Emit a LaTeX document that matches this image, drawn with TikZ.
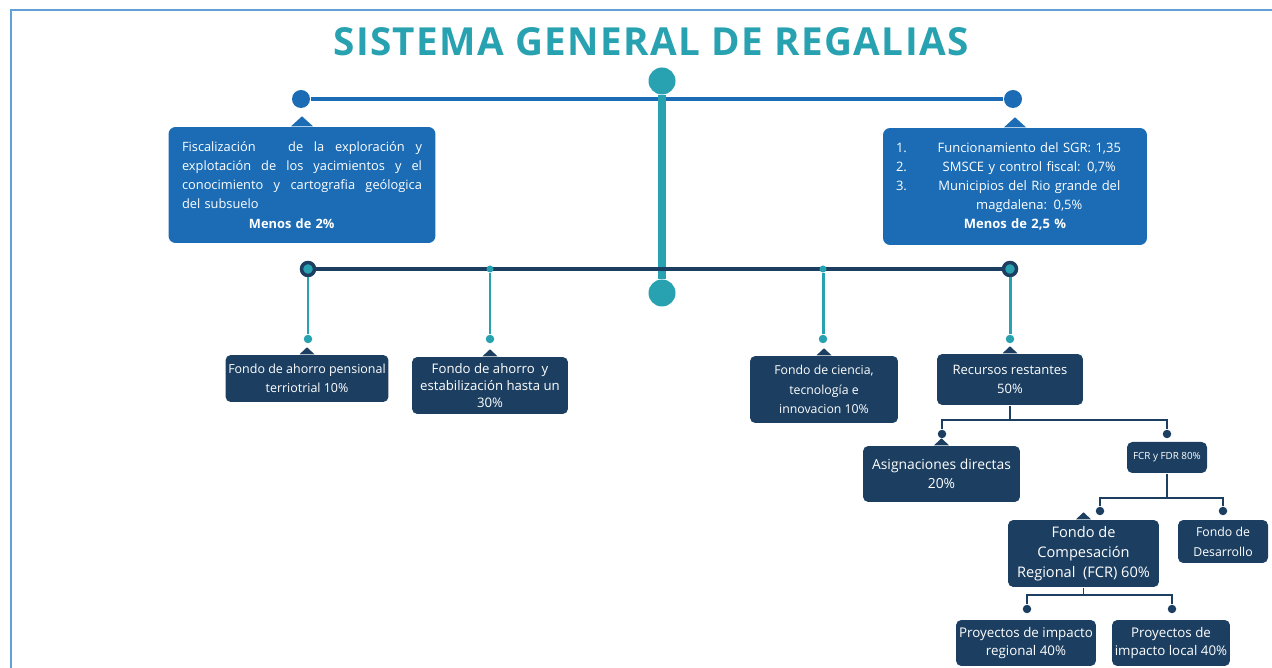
\documentclass[tikz,border=0pt]{standalone}
\usepackage{fontspec}
\setmainfont{Open Sans}
\newfontfamily\titlefont{Open Sans}[LetterSpace=3.5]
\usetikzlibrary{calc}

\definecolor{tealsgr}{RGB}{40,162,176}
\definecolor{bluesgr}{RGB}{27,108,181}
\definecolor{navysgr}{RGB}{28,63,97}
\definecolor{framesgr}{RGB}{98,160,216}

% one numbered line of the right call-out
\newcommand{\numline}[2]{\makebox[2.2em][l]{#1}\makebox[\dimexpr\linewidth-2.2em\relax][c]{#2}}

\begin{document}
\begin{tikzpicture}[x=0.02cm,y=-0.02cm,
  thick,
  callout box/.style={fill=bluesgr,text=white,rounded corners=4pt,inner sep=0pt},
  fund box/.style={fill=navysgr,text=white,rounded corners=3pt,inner sep=0pt,align=center},
  dot/.style={circle,fill=#1,inner sep=0pt},
  ring/.style={circle,fill=tealsgr,draw=navysgr,line width=2pt,inner sep=0pt,minimum size=0.26cm},
  conn/.style={draw=navysgr,line width=1.1pt}]

  \useasboundingbox (0,0) rectangle (1272,668);
  \draw[framesgr,line width=0.05cm] (11,668) -- (11,10) -- (1272,10);

  \node[text=tealsgr,font=\titlefont\bfseries\fontsize{22}{22}\selectfont] (title) at (651,42) {SISTEMA GENERAL DE REGALIAS};

  % top level
  \node[dot=bluesgr,minimum size=0.36cm] (bl) at (301,99) {};
  \node[dot=bluesgr,minimum size=0.36cm] (br) at (1013,99) {};
  \node[dot=tealsgr,minimum size=0.54cm] (top) at (662,81) {};
  \node[dot=tealsgr,minimum size=0.54cm] (bot) at (662,293) {};
  \node[ring] (nl) at (308,269) {};
  \node[ring] (nr) at (1010,269) {};
  \draw[bluesgr,line width=2.8pt] (bl) -- (br);
  \draw[tealsgr,line width=4pt] (top) -- (bot);
  \draw[navysgr,line width=2.8pt] (nl) -- (nr);

  % call-outs
  \node[callout box,minimum width=5.34cm,minimum height=2.32cm,text width=4.8cm,
    font=\fontsize{7.3}{10.9}\selectfont] (lc) at (302,185) {%
    Fiscalización\hfill\hfill\hfill de\hfill la\hfill exploración\hfill y\\
    explotación\hfill de\hfill los\hfill yacimientos\hfill y\hfill el\\
    conocimiento\hfill y\hfill cartografia\hfill geólogica\\
    del subsuelo\\
    \makebox[\linewidth]{\textbf{Menos de 2\%}\hspace{1.6em}}};
  \node[callout box,minimum width=5.28cm,minimum height=2.34cm,text width=4.76cm,
    font=\fontsize{7.4}{10.8}\selectfont] (rc) at (1015,186.5) {%
    \numline{1.}{Funcionamiento del SGR: 1,35}\\
    \numline{2.}{SMSCE y control fiscal: 0,7\%}\\
    \numline{3.}{Municipios del Rio grande del}\\
    \numline{}{magdalena: 0,5\%}\\
    \makebox[\linewidth]{\textbf{Menos de 2,5 \%}}};
  \foreach \b in {lc,rc}
    \fill[bluesgr] ([xshift=-0.22cm]\b.north) -- ([yshift=0.2cm]\b.north) -- ([xshift=0.22cm]\b.north) -- cycle;

  % funds
  \node[fund box,minimum width=3.26cm,minimum height=0.94cm,font=\fontsize{7.1}{11}\selectfont] (b1) at (307,378.5) {Fondo de ahorro pensional\\terriotrial 10\%};
  \node[fund box,minimum width=3.12cm,minimum height=1.14cm,font=\fontsize{7.5}{9.8}\selectfont] (b2) at (490,385.5) {Fondo de ahorro\ \ y\\estabilización hasta un\\30\%};
  \node[fund box,minimum width=2.96cm,minimum height=1.34cm,font=\fontsize{7}{11}\selectfont] (b3) at (824,389.5) {Fondo de ciencia,\\tecnología e\\innovacion 10\%};
  \node[fund box,minimum width=2.92cm,minimum height=1.02cm,font=\fontsize{7.4}{10.8}\selectfont] (b4) at (1010,379.5) {Recursos restantes\\50\%};
  \node[fund box,minimum width=3.14cm,minimum height=1.12cm,font=\fontsize{7.9}{10.8}\selectfont] (ad) at (941.5,474) {Asignaciones directas\\20\%};
  \node[fund box,minimum width=1.6cm,minimum height=0.62cm,font=\fontsize{5.6}{6}\selectfont] (fcrfdr) at (1167,457.5) {FCR y FDR 80\%};
  \node[fund box,minimum width=3.02cm,minimum height=1.34cm,font=\fontsize{8.3}{11.3}\selectfont] (fcr) at (1083.5,553.5) {Fondo de\\Compesación\\Regional\ \ (FCR) 60\%};
  \node[fund box,minimum width=1.8cm,minimum height=0.86cm,font=\fontsize{7}{11.3}\selectfont] (fdr) at (1223,541.5) {Fondo de\\Desarrollo};
  \node[fund box,minimum width=2.8cm,minimum height=0.92cm,font=\fontsize{7.6}{10.2}\selectfont] (pr) at (1026,643) {Proyectos de impacto\\regional 40\%};
  \node[fund box,minimum width=2.36cm,minimum height=0.92cm,font=\fontsize{7.6}{10.2}\selectfont] (pl) at (1171,643) {Proyectos de\\impacto local 40\%};
  \foreach \b in {b1,b2,b3,b4,ad,fcr}
    \fill[navysgr] ([xshift=-0.15cm]\b.north) -- ([yshift=0.14cm]\b.north) -- ([xshift=0.15cm]\b.north) -- cycle;

  % stems from the navy bar
  \node[dot=tealsgr,minimum size=0.14cm] (t2) at (490,269) {};
  \node[dot=tealsgr,minimum size=0.14cm] (t3) at (823,269) {};
  \node[dot=tealsgr,minimum size=0.17cm] (s1) at (308,339) {};
  \node[dot=tealsgr,minimum size=0.17cm] (s2) at (490,339) {};
  \node[dot=tealsgr,minimum size=0.17cm] (s3) at (823,339) {};
  \node[dot=tealsgr,minimum size=0.17cm] (s4) at (1010,339) {};
  \path[tealsgr,line width=1.7pt]
    (nl) edge (s1)
    (t2) edge (s2)
    (t3) edge (s3)
    (nr) edge (s4);

  % lower tree
  \node[dot=navysgr,minimum size=0.17cm] (d5) at (942,434) {};
  \node[dot=navysgr,minimum size=0.17cm] (d6) at (1167,434) {};
  \node[dot=navysgr,minimum size=0.17cm] (d7) at (1100,511) {};
  \node[dot=navysgr,minimum size=0.17cm] (d8) at (1223,511) {};
  \node[dot=navysgr,minimum size=0.17cm] (d9) at (1027,609) {};
  \node[dot=navysgr,minimum size=0.17cm] (d10) at (1172,609) {};
  \draw[conn] (b4.south) -- ++(0,14) coordinate (j1) -| (d5) (j1) -| (d6);
  \draw[conn] (fcrfdr.south) -- ++(0,24) coordinate (j2) -| (d7) (j2) -| (d8);
  \draw[conn] (fcr.south) -- ++(0,7) coordinate (j3) -| (d9) (j3) -| (d10);
\end{tikzpicture}
\end{document}
